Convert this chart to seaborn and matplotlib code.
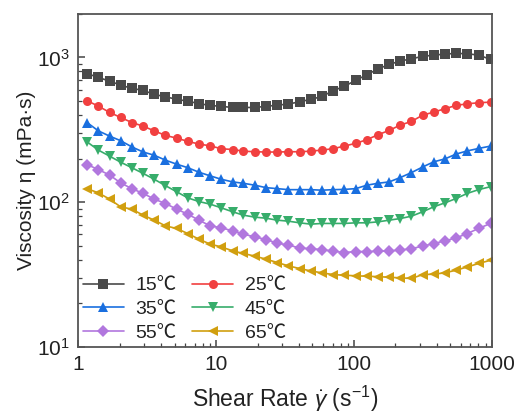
import matplotlib
matplotlib.use('Agg')
import matplotlib.pyplot as plt
import seaborn as sns
import pandas as pd
from matplotlib.ticker import LogLocator, NullFormatter

# shear rate (1/s)
shear_rate = [1.16, 1.40, 1.69, 2.03, 2.45, 2.96, 3.56, 4.30, 5.18, 6.24,
              7.52, 9.06, 10.9, 13.2, 15.8, 19.1, 23.0, 27.8, 33.5, 40.4,
              48.6, 58.6, 70.6, 85.1, 103, 124, 149, 180, 217, 261,
              315, 379, 457, 551, 664, 801, 980]

# viscosity (mPa.s) per temperature
visc_15 = [774, 727, 686, 644, 611, 592, 555, 535, 513, 499,
           479, 466, 459, 451, 451, 451, 459, 468, 476, 494,
           513, 537, 589, 631, 694, 759, 831, 895, 943, 979,
           1016, 1037, 1054, 1066, 1060, 1037, 969]
visc_25 = [502, 461, 417, 385, 355, 335, 311, 289, 277, 263,
           252, 245, 234, 231, 225, 223, 222, 222, 223, 223,
           225, 229, 234, 244, 255, 270, 292, 313, 341, 361,
           399, 419, 442, 466, 478, 486, 491]
visc_35 = [355, 311, 286, 266, 241, 222, 211, 195, 183, 173,
           161, 152, 144, 138, 135, 131, 126, 124, 122, 122,
           122, 121, 122, 122.5, 124, 131, 135, 138, 148, 160,
           175, 190, 199, 215, 226, 235, 244]
visc_45 = [261, 229, 208, 189, 173, 158, 144, 130, 118, 107,
           101, 96.9, 91.4, 85.8, 81.3, 78.8, 77.5, 75.1, 73.9, 72.0,
           70.5, 71.3, 71.3, 71.3, 72.0, 72.0, 73.1, 75.1, 77.1, 80.0,
           85.8, 92.9, 98.9, 106, 115, 122, 128]
visc_55 = [182, 168, 154, 136, 124, 115, 105, 97.9, 89.5, 82.6,
           75.1, 68.6, 66.5, 63.4, 60.1, 57.6, 55.2, 52.1, 50.5, 48.3,
           47.6, 47.1, 45.8, 44.9, 45.6, 45.6, 45.8, 46.1, 46.6, 47.8,
           49.6, 51.8, 54.0, 56.7, 60.7, 65.8, 71.3]
visc_65 = [124, 116, 105, 92.9, 89.5, 81.3, 75.1, 68.6, 65.8, 60.7,
           55.5, 51.3, 49.1, 46.1, 44.2, 42.4, 40.4, 38.3, 36.3, 34.8,
           33.5, 32.5, 31.6, 31.3, 31.0, 30.8, 30.6, 30.3, 30.0, 29.7,
           31.6, 31.8, 32.5, 33.9, 35.7, 37.7, 39.7]

labels = ['15℃', '25℃', '35℃', '45℃', '55℃', '65℃']
colors = ['#4a4a4a', '#f14040', '#1a6fdf', '#37ad6b', '#b177de', '#d19f0f']
marker_list = ['s', 'o', '^', 'v', 'D', '<']


def build_frame():
    series = [visc_15, visc_25, visc_35, visc_45, visc_55, visc_65]
    rows = []
    for lab, vals in zip(labels, series):
        for x, y in zip(shear_rate, vals):
            rows.append({'rate': x, 'visc': y, 'temp': lab})
    return pd.DataFrame(rows)


def draw():
    sns.set_style('white')
    plt.rcParams['font.family'] = ['Liberation Sans', 'Noto Sans CJK SC']
    plt.rcParams['mathtext.fontset'] = 'custom'
    plt.rcParams['mathtext.rm'] = 'Liberation Sans'
    plt.rcParams['mathtext.it'] = 'Liberation Sans:italic'

    df = build_frame()
    fig = plt.figure(figsize=(5.21, 4.19), dpi=100)
    ax = fig.add_axes([0.150, 0.172, 0.794, 0.795])

    sns.lineplot(data=df, x='rate', y='visc', hue='temp', style='temp',
                 palette=dict(zip(labels, colors)),
                 markers=dict(zip(labels, marker_list)), dashes=False,
                 markersize=6.5, markeredgewidth=0, linewidth=1.2, ax=ax)

    ax.set_xscale('log')
    ax.set_yscale('log')
    ax.set_xlim(1, 1000)
    ax.set_ylim(10, 2000)
    ax.set_xticks([1, 10, 100, 1000])
    ax.set_xticklabels(['1', '10', '100', '1000'])
    ax.xaxis.set_minor_locator(LogLocator(base=10, subs=range(2, 10)))
    ax.yaxis.set_minor_locator(LogLocator(base=10, subs=range(2, 10)))
    ax.xaxis.set_minor_formatter(NullFormatter())
    ax.yaxis.set_minor_formatter(NullFormatter())

    ax.tick_params(which='both', bottom=True, left=True, top=False, right=False)
    ax.tick_params(which='major', direction='in', length=5, width=1.1,
                   labelsize=15, color='#444444', labelcolor='#222222', pad=6)
    ax.tick_params(which='minor', direction='in', length=3, width=0.9,
                   color='#444444')
    for sp in ax.spines.values():
        sp.set_color('#555555')
        sp.set_linewidth(1.3)

    ax.set_xlabel(r'Shear Rate $\dot{\gamma}$ (s$^{-1}$)', fontsize=16.5,
                  labelpad=7, color='#222222')
    ax.set_ylabel('Viscosity η (mPa·s)', fontsize=15, labelpad=1,
                  color='#222222')

    # row-wise legend order: 15/25, 35/45, 55/65
    handles, labs = ax.get_legend_handles_labels()
    order = [0, 2, 4, 1, 3, 5]
    ax.legend([handles[i] for i in order], [labs[i] for i in order],
              ncol=2, loc='lower left', frameon=False, fontsize=14,
              handlelength=2.1, columnspacing=0.8, labelspacing=0.32,
              handletextpad=0.6, borderaxespad=0.1, borderpad=0.15,
              labelcolor='#222222')

    fig.savefig('out.png', dpi=100)


def main():
    draw()


if __name__ == '__main__':
    main()
